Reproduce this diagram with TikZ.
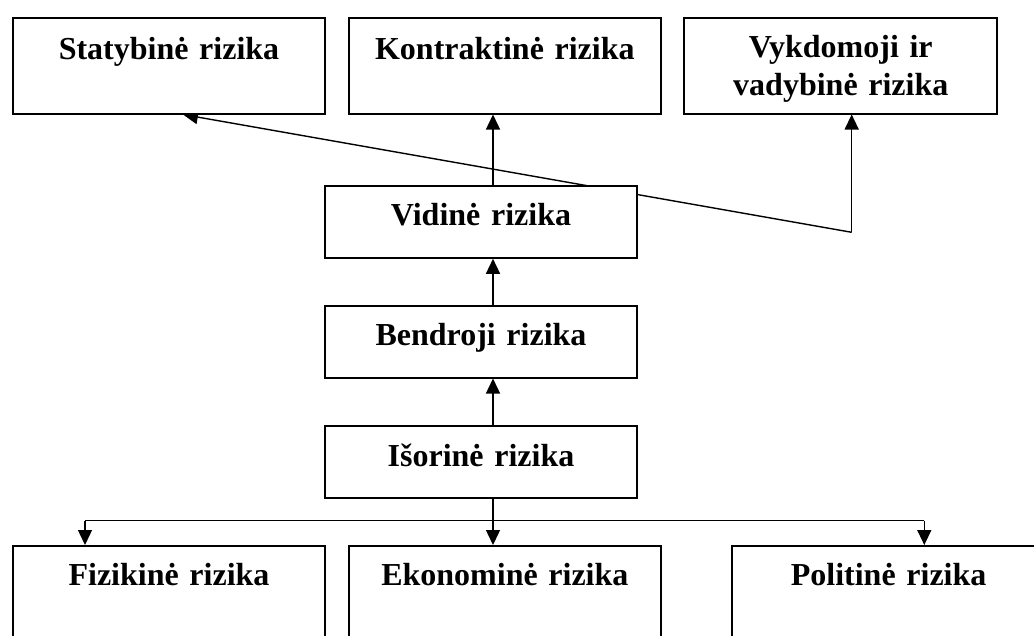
\documentclass[tikz,border=0pt]{standalone}
\usepackage{fontspec}
\setmainfont{Liberation Serif}
\usetikzlibrary{arrows.meta,backgrounds}
\begin{document}
\begin{tikzpicture}[x=1pt,y=-1pt,
  rbox/.style={draw, line width=1.8pt, fill=white, inner sep=0pt, align=center,
    anchor=north, font=\fontsize{32}{38}\selectfont\bfseries},
  topbox/.style={rbox, text height=42.3pt, text depth=53.7pt},
  midbox/.style={rbox, text width=312pt, text height=40pt, text depth=32pt},
  lowbox/.style={rbox, text height=40pt, text depth=60pt},
  link/.style={line width=1.4pt, -{Triangle[length=15pt,width=14pt]}},
  plain/.style={line width=1.4pt}]
\useasboundingbox (0,0) rectangle (1034,635);
\clip (0,0) rectangle (1034,635);

% upper row
\node[topbox, text width=312.6pt] (sta) at (169,16.7) {Statybinė rizika};
\node[topbox, text width=311.7pt] (kon) at (504.85,16.7) {Kontraktinė rizika};
\node[rbox, text width=313pt, text height=40pt, text depth=56pt] (vyk) at (840.8,16.7) {Vykdomoji ir\\vadybinė rizika};

% central column
\node[midbox] (vid) at (481,185) {Vidinė rizika};
\node[midbox, text depth=31.7pt] (ben) at (481,305) {Bendroji rizika};
\node[midbox, text height=40.7pt, text depth=31pt] (isor) at (481,425) {Išorinė rizika};

% lower row
\node[lowbox, text width=312.3pt] (fiz) at (169,545) {Fizikinė rizika};
\node[lowbox, text width=311.7pt] (eko) at (504.85,545) {Ekonominė rizika};
\node[lowbox, text width=312.6pt] (pol) at (888.6,545) {Politinė rizika};

% helper points for the connectors
\coordinate (spine) at (493,0);
\coordinate (bend) at (851.7,232.3);
\coordinate (tipS) at (183,0);
\coordinate (busL) at (85,520.7);
\coordinate (busR) at (924.3,520.7);

% vertical chain
\draw[link] (vid.north -| spine) -- (kon.south -| spine);
\draw[link] (ben.north -| spine) -- (vid.south -| spine);
\draw[link] (isor.north -| spine) -- (ben.south -| spine);

% distribution to the lower row
\draw[link] (isor.south -| spine) -- (eko.north -| spine);
\draw[plain] (busL) -- (busR);
\draw[link] (busL) -- (fiz.north -| busL);
\draw[link] (busR) -- (pol.north -| busR);

% branch to the outer upper boxes
\draw[link] (bend) -- (vyk.south -| bend);
\begin{scope}[on background layer]
  \draw[link] (bend) -- (sta.south -| tipS);
\end{scope}
\end{tikzpicture}
\end{document}
